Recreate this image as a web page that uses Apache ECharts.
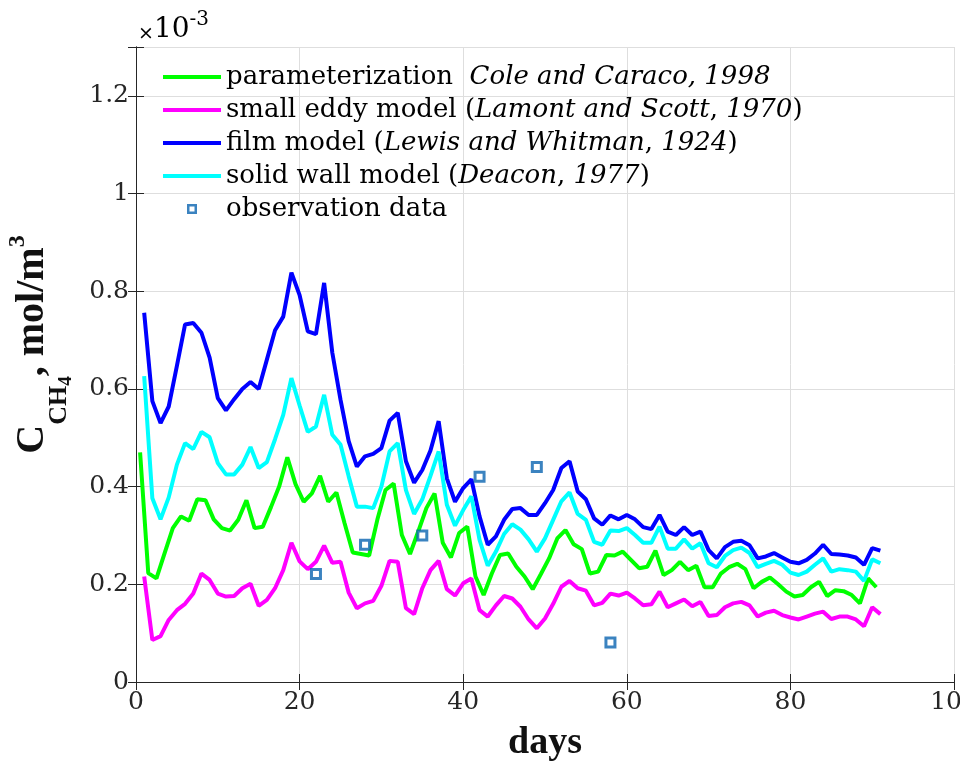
<!DOCTYPE html>
<html><head><meta charset="utf-8">
<script src="https://cdn.jsdelivr.net/npm/echarts@6/dist/echarts.min.js"></script>
<style>html,body{margin:0;padding:0;background:#fff}#c{width:960px;height:767px}</style>
</head><body><div id="c"></div>
<script>
// model days 1..91
const days = [1,2,3,4,5,6,7,8,9,10,11,12,13,14,15,16,17,18,19,20,21,22,23,24,25,26,27,28,29,30,
  31,32,33,34,35,36,37,38,39,40,41,42,43,44,45,46,47,48,49,50,51,52,53,54,55,56,57,58,59,60,
  61,62,63,64,65,66,67,68,69,70,71,72,73,74,75,76,77,78,79,80,81,82,83,84,85,86,87,88,89,90,91];
// the parameterization curve is sampled half a day earlier
const parameterizationDayShift = -0.5;

// values in units of 1e-3 mol/m^3
const parameterization = [0.470,0.223,0.212,0.264,0.315,0.339,0.330,0.374,0.372,0.333,
  0.315,0.310,0.332,0.372,0.315,0.318,0.358,0.400,0.460,0.405,
  0.369,0.386,0.422,0.369,0.388,0.325,0.265,0.262,0.259,0.332,
  0.393,0.406,0.301,0.262,0.308,0.356,0.386,0.285,0.255,0.305,
  0.318,0.216,0.178,0.222,0.260,0.263,0.236,0.216,0.190,0.221,
  0.253,0.294,0.311,0.282,0.272,0.222,0.226,0.260,0.259,0.267,
  0.250,0.233,0.236,0.269,0.219,0.229,0.246,0.229,0.238,0.194,
  0.194,0.222,0.235,0.242,0.231,0.192,0.205,0.214,0.200,0.185,
  0.175,0.178,0.194,0.205,0.176,0.188,0.186,0.178,0.161,0.212,0.194];
const smallEddy = [0.216,0.086,0.094,0.127,0.147,0.160,0.181,0.222,0.209,0.181,
  0.175,0.176,0.192,0.201,0.156,0.168,0.192,0.229,0.285,0.247,
  0.231,0.246,0.279,0.244,0.246,0.183,0.151,0.161,0.166,0.197,
  0.248,0.246,0.151,0.139,0.192,0.229,0.248,0.190,0.177,0.202,
  0.212,0.147,0.134,0.157,0.176,0.171,0.154,0.128,0.110,0.130,
  0.160,0.195,0.207,0.192,0.187,0.157,0.162,0.181,0.177,0.183,
  0.171,0.157,0.159,0.185,0.153,0.161,0.169,0.155,0.164,0.135,
  0.137,0.153,0.161,0.164,0.157,0.134,0.142,0.146,0.137,0.132,
  0.128,0.134,0.140,0.144,0.129,0.134,0.134,0.128,0.114,0.153,0.139];
const film = [0.756,0.575,0.530,0.564,0.647,0.732,0.735,0.715,0.664,0.581,
  0.556,0.579,0.600,0.614,0.600,0.660,0.720,0.748,0.838,0.792,
  0.718,0.712,0.817,0.674,0.578,0.493,0.441,0.462,0.467,0.479,
  0.535,0.551,0.452,0.408,0.434,0.474,0.534,0.417,0.369,0.397,
  0.415,0.339,0.281,0.298,0.332,0.354,0.356,0.342,0.342,0.366,
  0.393,0.438,0.452,0.390,0.374,0.335,0.322,0.341,0.333,0.342,
  0.333,0.317,0.313,0.342,0.308,0.301,0.317,0.301,0.308,0.270,
  0.253,0.276,0.287,0.289,0.280,0.253,0.257,0.264,0.255,0.246,
  0.243,0.250,0.263,0.281,0.262,0.261,0.259,0.255,0.240,0.274,0.269];
const solidWall = [0.626,0.376,0.333,0.378,0.445,0.489,0.477,0.512,0.501,0.448,
  0.425,0.425,0.445,0.481,0.438,0.450,0.497,0.547,0.622,0.566,
  0.512,0.523,0.588,0.506,0.486,0.421,0.359,0.359,0.356,0.400,
  0.472,0.489,0.393,0.344,0.374,0.422,0.472,0.363,0.320,0.352,
  0.380,0.291,0.238,0.267,0.303,0.323,0.312,0.292,0.267,0.294,
  0.332,0.370,0.388,0.344,0.332,0.287,0.281,0.310,0.309,0.315,
  0.301,0.285,0.285,0.318,0.273,0.273,0.292,0.273,0.284,0.243,
  0.235,0.258,0.270,0.275,0.264,0.235,0.242,0.248,0.240,0.224,
  0.219,0.226,0.240,0.253,0.226,0.231,0.229,0.226,0.207,0.251,0.243];
const obsDays = [22,28,35,42,49,58];
const obsValues = [0.221,0.281,0.300,0.420,0.440,0.081];

const F = "'DejaVu Serif', serif";
const FB = "'Liberation Serif', serif";
const TXT = '#262626';

const pairs = (xs, ys, shift) => ys.map((v, i) => [xs[i] + (shift || 0), v]);

const legendText = {
  'parameterization': '{n|parameterization  }{i|Cole and Caraco, 1998}',
  'small eddy model': '{n|small eddy model (}{i|Lamont and Scott}{n|, }{i|1970}{n|)}',
  'film model': '{n|film model (}{i|Lewis and Whitman}{n|, }{i|1924}{n|)}',
  'solid wall model': '{n|solid wall model (}{i|Deacon}{n|, }{i|1977}{n|)}',
  'observation data': '{n|observation data}'
};
const LINE_ICON = 'path://M0,0 M58,20 M0,8 L58,8 L58,12 L0,12 Z';
const OBS_ICON = 'path://M0,0 M20,20 M5,5 L15,5 L15,15 L5,15 Z M7.5,7.5 L7.5,12.5 L12.5,12.5 L12.5,7.5 Z';

const chart = echarts.init(document.getElementById('c'));
const lineSeries = (name, data, color, z) => ({
  name, type: 'line', data, symbol: 'none', showSymbol: false, z,
  lineStyle: {color, width: 4}, itemStyle: {color}, animation: false
});

chart.setOption({
  animation: false,
  backgroundColor: '#fff',
  grid: {left: 136, right: 6, top: 47, bottom: 85, containLabel: false, outerBoundsMode: 'none'},
  xAxis: [{
    type: 'value', min: 0, max: 100, interval: 20,
    name: 'days', nameLocation: 'middle', nameGap: 42, nameMoveOverlap: false,
    nameTextStyle: {fontFamily: FB, fontSize: 38, fontWeight: 'bold', color: '#111'},
    axisLine: {lineStyle: {color: TXT, width: 1}},
    axisTick: {inside: true, length: 8, lineStyle: {color: TXT}},
    axisLabel: {fontFamily: F, fontSize: 25, color: TXT, margin: 8},
    splitLine: {show: true, lineStyle: {color: '#dedede', width: 1}}
  }, {
    type: 'value', min: 0, max: 100, interval: 20, position: 'top',
    axisLine: {show: true, lineStyle: {color: TXT, width: 1}},
    axisTick: {inside: true, length: 8, lineStyle: {color: TXT}},
    axisLabel: {show: false}, splitLine: {show: false}
  }],
  yAxis: [{
    type: 'value', min: 0, max: 1.3, interval: 0.2,
    name: '{c|C}{s|CH}{s2|4}{c|, mol/m}{p|3}',
    nameLocation: 'middle', nameRotate: 90, nameGap: 60, nameMoveOverlap: false,
    nameTextStyle: {
      color: '#111', padding: [0, 0, 0, 40],
      rich: {
        c: {fontFamily: FB, fontSize: 40, fontWeight: 'bold', color: '#111', lineHeight: 86, verticalAlign: 'middle'},
        s: {fontFamily: FB, fontSize: 26, fontWeight: 'bold', color: '#111', verticalAlign: 'bottom', padding: [0, 0, 4, 0]},
        s2: {fontFamily: FB, fontSize: 19, fontWeight: 'bold', color: '#111', verticalAlign: 'bottom'},
        p: {fontFamily: FB, fontSize: 24, fontWeight: 'bold', color: '#111', verticalAlign: 'top', padding: [16, 0, 0, 0]}
      }
    },
    axisLine: {show: true, lineStyle: {color: TXT, width: 1}},
    axisTick: {show: true, inside: true, length: 8, lineStyle: {color: TXT}},
    axisLabel: {fontFamily: F, fontSize: 25, color: TXT, margin: 7,
      formatter: v => (v > 1.25 ? '' : String(Math.round(v * 10) / 10))},
    splitLine: {show: true, lineStyle: {color: '#dedede', width: 1}}
  }, {
    type: 'value', min: 0, max: 1.3, interval: 0.2, position: 'right',
    axisLine: {show: true, lineStyle: {color: TXT, width: 1}},
    axisTick: {show: true, inside: true, length: 8, lineStyle: {color: TXT}},
    axisLabel: {show: false}, splitLine: {show: false}
  }],
  legend: {
    orient: 'vertical', left: 163, top: 63, padding: 0,
    itemWidth: 58, itemHeight: 20, itemGap: 5,
    textStyle: {fontFamily: F, fontSize: 26, color: '#000', lineHeight: 28,
      rich: {
        n: {fontFamily: F, fontSize: 26, color: '#000'},
        i: {fontFamily: F, fontSize: 26, fontStyle: 'italic', color: '#000'}
      }},
    formatter: name => legendText[name],
    data: [
      {name: 'parameterization', icon: LINE_ICON, itemStyle: {color: '#00ff00'}},
      {name: 'small eddy model', icon: LINE_ICON, itemStyle: {color: '#ff00ff'}},
      {name: 'film model', icon: LINE_ICON, itemStyle: {color: '#0000ff'}},
      {name: 'solid wall model', icon: LINE_ICON, itemStyle: {color: '#00ffff'}},
      {name: 'observation data', icon: OBS_ICON, itemStyle: {color: '#0a64b0', borderWidth: 0}}
    ]
  },
  graphic: [{
    type: 'text', left: 138, top: 10,
    style: {
      text: '{x|×}{a|10}{b|-3}',
      rich: {
        x: {fontFamily: F, fontSize: 19, color: TXT, verticalAlign: 'bottom', lineHeight: 34},
        a: {fontFamily: F, fontSize: 28, color: TXT, verticalAlign: 'bottom', lineHeight: 34},
        b: {fontFamily: F, fontSize: 20, color: TXT, verticalAlign: 'top'}
      }
    }
  }],
  series: [
    lineSeries('parameterization', pairs(days, parameterization, parameterizationDayShift), '#00ff00', 2),
    lineSeries('small eddy model', pairs(days, smallEddy), '#ff00ff', 2),
    lineSeries('film model', pairs(days, film), '#0000ff', 2),
    lineSeries('solid wall model', pairs(days, solidWall), '#00ffff', 2),
    {
      name: 'observation data', type: 'scatter', z: 5,
      data: pairs(obsDays, obsValues),
      symbol: 'rect', symbolSize: 9,
      itemStyle: {color: '#ffffff', borderColor: '#0a64b0', borderWidth: 3}
    }
  ]
});
</script>
</body></html>
